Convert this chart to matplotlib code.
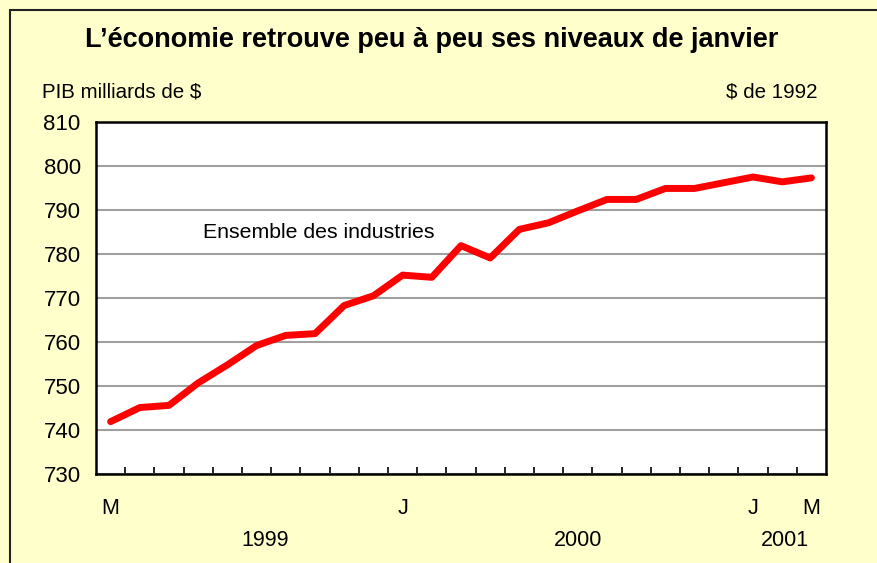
import matplotlib.pyplot as plt
from matplotlib.patches import Rectangle

plt.rcParams['font.family'] = ['Liberation Sans', 'DejaVu Sans']

# monthly GDP, March 1999 to March 2001
months = list(range(25))
gdp = [741.9, 745.1, 745.6, 750.7, 754.8, 759.2, 761.5, 761.9, 768.3, 770.5,
       775.2, 774.7, 781.9, 779.1, 785.6, 787.1, 789.8, 792.4, 792.4, 794.9,
       794.9, 796.2, 797.5, 796.4, 797.3]

month_ticks = [0, 10, 22, 24]
month_labels = ["M", "J", "J", "M"]
year_pos = [5.3, 16.0, 23.1]
year_labels = ["1999", "2000", "2001"]
y_ticks = [730, 740, 750, 760, 770, 780, 790, 800, 810]

bg = "#FFFFCC"

fig = plt.figure(figsize=(8.78, 5.63), dpi=100)
fig.patch.set_facecolor(bg)

# outer frame (only top and left edges visible in the original)
fig.add_artist(Rectangle((10 / 878, -0.1), 1.2, 1 - 10 / 563 + 0.1,
                         transform=fig.transFigure, fill=False,
                         edgecolor="#222222", linewidth=1.5))

ax = fig.add_axes([96 / 878, 1 - 474 / 563, 730 / 878, 352 / 563])
ax.set_facecolor("white")

ax.plot(months, gdp, color="#FF0000", linewidth=5, solid_capstyle="round",
        solid_joinstyle="round", zorder=3)

ax.set_xlim(-0.5, 24.5)
ax.set_ylim(730, 810)
ax.set_yticks(y_ticks)
ax.yaxis.grid(True, color="#A0A0A0", linewidth=1.5)
ax.set_axisbelow(True)
ax.tick_params(axis="y", length=0, pad=11, labelsize=16)

ax.set_xticks(month_ticks)
ax.set_xticklabels(month_labels)
ax.set_xticks([k + 0.5 for k in range(24)], minor=True)
ax.tick_params(axis="x", which="major", length=0, pad=17, labelsize=15.5)
ax.tick_params(axis="x", which="minor", direction="in", length=5, width=1.2)

for s in ax.spines.values():
    s.set_linewidth(1.8)
    s.set_color("black")

for p, lab in zip(year_pos, year_labels):
    ax.text(p, -0.188, lab, transform=ax.get_xaxis_transform(),
            ha="center", va="center", fontsize=15.5)

ax.text(3.15, 784.8, "Ensemble des industries", fontsize=15.3,
        ha="left", va="center")

fig.text(0.492, 1 - 40 / 563, "L\u2019économie retrouve peu à peu ses niveaux de janvier",
         ha="center", va="center", fontsize=19.5, fontweight="bold")
fig.text(42 / 878, 1 - 92 / 563, "PIB milliards de $", ha="left", va="center",
         fontsize=14.8)
fig.text(818 / 878, 1 - 92 / 563, "$ de 1992", ha="right", va="center",
         fontsize=14.8)

fig.savefig("out.png", dpi=100, facecolor=bg)
